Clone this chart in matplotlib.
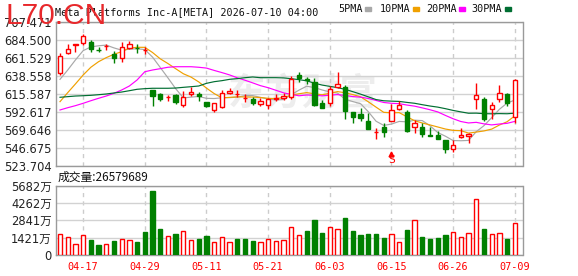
import numpy as np
import matplotlib
matplotlib.use('Agg')
import matplotlib.pyplot as plt
from matplotlib.patches import Rectangle

# --- daily candles (USD) ---
opens = [642.0, 668.3, 677.7, 680.3, 681.6, 671.7, 676.5, 666.3, 662.0, 673.9,
         674.7, 671.4, 620.7, 615.2, 611.5, 614.3, 601.5, 616.0, 616.0, 605.4,
         595.2, 599.4, 616.9, 615.2, 610.5, 609.2, 603.2, 601.5, 609.2, 610.1,
         611.5, 640.2, 634.3, 630.5, 603.7, 604.5, 624.9, 624.1, 592.6, 590.4,
         581.1, 567.2, 573.9, 581.5, 596.1, 592.2, 573.9, 573.0, 562.9, 563.3,
         556.9, 545.0, 560.7, 562.0, 609.2, 609.2, 596.5, 609.6, 615.6, 585.9]
highs = [667.5, 679.4, 679.4, 691.9, 684.1, 675.5, 679.0, 670.9, 681.6, 683.2,
         679.4, 675.5, 620.7, 617.3, 614.8, 615.2, 619.8, 624.9, 617.8, 605.4,
         604.5, 620.7, 622.9, 620.7, 615.2, 611.5, 610.1, 610.9, 615.6, 617.3,
         638.9, 644.0, 636.9, 635.6, 607.9, 625.8, 643.7, 627.5, 592.6, 597.3,
         591.7, 572.7, 578.2, 602.8, 607.0, 595.2, 582.4, 578.2, 573.9, 568.7,
         556.9, 556.9, 571.8, 566.2, 630.0, 611.5, 605.4, 626.7, 616.5, 634.3]
lows = [639.8, 666.3, 669.6, 677.7, 669.6, 668.9, 671.7, 654.7, 656.0, 673.0,
        667.5, 666.3, 600.7, 607.0, 607.0, 602.4, 599.4, 613.4, 607.0, 599.0,
        593.0, 597.3, 615.6, 611.5, 605.0, 601.5, 600.6, 596.1, 607.0, 607.9,
        609.2, 631.3, 628.4, 600.3, 598.1, 600.3, 623.6, 584.1, 579.0, 581.1,
        571.3, 557.7, 561.1, 581.5, 595.2, 567.5, 565.4, 561.1, 562.4, 558.5,
        540.7, 542.0, 559.0, 552.6, 596.5, 581.5, 583.3, 605.8, 600.3, 579.0]
closes = [664.1, 672.6, 679.0, 689.6, 673.0, 671.4, 676.9, 661.2, 675.2, 679.0,
          674.3, 671.7, 613.4, 609.2, 612.3, 605.8, 612.3, 618.5, 613.4, 600.3,
          604.5, 617.3, 619.4, 616.0, 611.1, 603.7, 606.3, 608.8, 610.1, 613.4,
          634.7, 635.6, 633.8, 601.5, 598.1, 622.4, 628.0, 594.3, 586.6, 584.6,
          571.3, 567.6, 567.3, 595.2, 601.5, 568.7, 578.2, 564.5, 562.4, 558.5,
          545.0, 550.5, 563.3, 564.5, 614.3, 583.3, 601.5, 616.5, 604.5, 633.5]
# volume in 万 shares
volumes = [1721, 1476, 902, 1612, 1230, 820, 902, 1148, 1284, 1230,
           1066, 1886, 5247, 2131, 1558, 1721, 1940, 1230, 1312, 1558,
           1066, 1476, 1066, 1312, 1312, 1148, 1066, 1312, 1148, 1230,
           2295, 1640, 1967, 2869, 1803, 2295, 2131, 3033, 1967, 1640,
           1721, 1721, 1394, 1721, 1066, 2049, 2869, 1476, 1312, 1394,
           1640, 1886, 1476, 1803, 4591, 2131, 1721, 1803, 1312, 2658]

# moving-average values before the window is full
ma5_head = [634.3, 646.2, 659.0, 670.9]
ma10_head = [605.8, 617.3, 628.4, 639.8, 649.7, 656.8, 662.0, 666.3, 669.6]
ma20_head = [595.2, 598.1, 600.7, 603.7, 607.0, 610.1, 613.0, 616.5, 620.7, 625.8,
             633.5, 644.0, 646.2, 647.9, 649.7, 650.4, 650.4, 650.4, 649.7]
ma30_head = [611.4, 612.2, 613.0, 613.4, 613.9, 614.7, 615.6, 616.9, 618.1, 619.8,
             621.6, 622.4, 622.9, 622.9, 622.9, 623.2, 624.1, 624.9, 625.8, 629.2,
             631.3, 632.6, 634.3, 635.2, 636.4, 637.3, 636.4, 636.4, 636.4]

date_ticks = [3, 11, 19, 27, 35, 43, 51, 59]
date_labels = ['04-17', '04-29', '05-11', '05-21', '06-03', '06-15', '06-26', '07-09']
price_ticks = [523.704, 546.675, 569.646, 592.617, 615.587, 638.558, 661.529, 684.500, 707.471]
vol_ticks = [0, 1421, 2841, 4262, 5682]
vol_labels = ['0', '1421万', '2841万', '4262万', '5682万']
sell_idx = 43

RED = '#ff0000'
GREEN = '#008000'
ma_colors = {'5': '#a8a8a8', '10': '#f0a000', '20': '#ff00ff', '30': '#006e32'}


def moving_avg(vals, n, head):
    vals = np.asarray(vals)
    out = list(head)
    for i in range(len(head), len(vals)):
        out.append(vals[i - n + 1:i + 1].mean())
    return np.array(out)


o = np.array(opens); h = np.array(highs); l = np.array(lows); c = np.array(closes)
x = np.arange(len(c))

fig = plt.figure(figsize=(5.78, 2.76), dpi=100)
ax = fig.add_axes([56 / 578, 1 - 166 / 276, 466.5 / 578, 144 / 276])
axv = fig.add_axes([56 / 578, 1 - 255 / 276, 466.5 / 578, 69.3 / 276])

for a in (ax, axv):
    a.set_xlim(-0.52, 60.0)
    for s in a.spines.values():
        s.set_color('#9a9a9a')
        s.set_linewidth(1.0)
    a.set_xticks(date_ticks)
    a.grid(axis='y', color='#d2d2d2', lw=1.0, zorder=0)
    a.grid(axis='x', color='#cccccc', lw=1.0, ls=(0, (3, 3)), zorder=0)
    a.tick_params(length=0, pad=3)

# watermark
ax.text(0.53, 0.5, '东方财富', transform=ax.transAxes, ha='center', va='center',
        fontsize=27, color='#ededed', family='Noto Sans CJK SC', fontweight='bold',
        style='italic', zorder=0.5)

# price panel
ax.set_ylim(price_ticks[0], price_ticks[-1])
ax.set_yticks(price_ticks)
ax.set_yticklabels(['%.3f' % v for v in price_ticks], fontsize=8.3, color='#222222')
ax.set_xticklabels([])

for key, n, head in (('5', 5, ma5_head), ('10', 10, ma10_head),
                     ('20', 20, ma20_head), ('30', 30, ma30_head)):
    ax.plot(x, moving_avg(c, n, head), color=ma_colors[key], lw=0.85, zorder=2)

bw = 0.56
for i in x:
    up = c[i] >= o[i]
    col = RED if up else GREEN
    bot, top = min(o[i], c[i]), max(o[i], c[i])
    ax.vlines(i, l[i], h[i], color=col, lw=1.0, zorder=3)
    ax.add_patch(Rectangle((i - bw / 2, bot), bw, max(top - bot, 0.3),
                           facecolor='white' if up else GREEN, edgecolor=col,
                           lw=1.0, zorder=4))

# sell marker
ax.plot(sell_idx, 538.4, marker='^', color=RED, ms=3.5, zorder=5, clip_on=False)
ax.text(sell_idx, 530.8, 'S', color=RED, fontsize=8.2, ha='center', va='center',
        family='DejaVu Sans Mono', zorder=5)

# volume panel
prev = np.concatenate([[c[0] - 1], c[:-1]])
vcols = [RED if c[i] >= prev[i] else GREEN for i in x]
axv.bar(x, volumes, width=bw, color=['white' if vc == RED else GREEN for vc in vcols],
        edgecolor=vcols, lw=1.0, zorder=3)
axv.set_ylim(0, vol_ticks[-1])
axv.set_yticks(vol_ticks)
axv.set_yticklabels(vol_labels, fontsize=8.3, color='#222222',
                    family=['DejaVu Sans', 'Noto Sans CJK SC'])
axv.set_xticklabels(date_labels, fontsize=7.3, color=RED, family='DejaVu Sans Mono')
axv.tick_params(axis='x', pad=5)

# header texts
fig.text(55 / 578, 1 - 12 / 276, 'Meta Platforms Inc-A[META] 2026-07-10 04:00',
         fontsize=7.3, family='DejaVu Sans Mono', color='#111111', va='center')
legend_items = [('5PMA', 338, 367.7, ma_colors['5']), ('10PMA', 380, 415.7, ma_colors['10']),
                ('20PMA', 425.7, 462, ma_colors['20']), ('30PMA', 471.7, 507.7, ma_colors['30'])]
for lab, tx, sx, col in legend_items:
    fig.text(tx / 578, 1 - 9 / 276, lab, fontsize=7.3, family='DejaVu Sans Mono',
             color='#111111', va='center')
    fig.patches.append(Rectangle(((sx - 3) / 578, 1 - 11 / 276), 6 / 578, 4 / 276,
                                 transform=fig.transFigure, color=col, figure=fig))

fig.text(58 / 578, 1 - 177 / 276, '成交量:26579689', fontsize=8.5,
         family=['Noto Sans CJK SC', 'DejaVu Sans'], color='#111111', va='center')

# site watermark sits over the header, as in the original
fig.text(6 / 578, 1 - 16 / 276, 'L70.CN', fontsize=21.5, family='Liberation Sans',
         color='#e8282b', va='center', zorder=10)

fig.savefig('out.png', dpi=100)
